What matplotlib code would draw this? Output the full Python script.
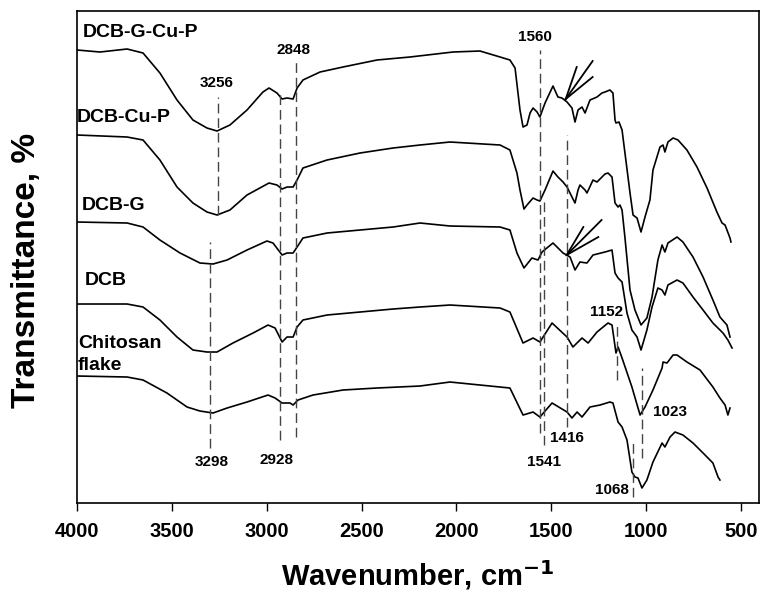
import matplotlib
matplotlib.use("Agg")
import matplotlib.pyplot as plt

plt.rcParams['font.family'] = ['Liberation Sans', 'DejaVu Sans']
plt.rcParams['font.weight'] = 'bold'

# spectra: wavenumber (cm-1) and transmittance (offset, arb. units)
wn_gcup = [4000, 3879, 3736, 3652, 3563, 3473, 3389, 3315, 3262, 3194, 3104, 3020, 2988, 2946,
           2919, 2893, 2861, 2840, 2809, 2719, 2598, 2419, 2245, 2018, 1876, 1770, 1718, 1691,
           1665, 1649, 1628, 1612, 1596, 1575, 1560, 1533, 1491, 1465, 1444, 1417, 1391, 1375,
           1359, 1338, 1322, 1296, 1259, 1233, 1217, 1191, 1175, 1164, 1159, 1143, 1127, 1085,
           1069, 1048, 1027, 1006, 980, 964, 927, 911, 901, 885, 858, 832, 785, 732, 679, 627,
           600, 584, 558, 553]
t_gcup = [453, 451, 454, 450, 430, 403, 383, 375, 372, 378, 393, 411, 415, 410,
          404, 405, 404, 415, 423, 431, 436, 443, 446, 451, 452, 446, 443, 435,
          393, 376, 378, 390, 395, 391, 386, 400, 417, 406, 405, 401, 395, 381,
          393, 396, 390, 403, 406, 410, 411, 413, 410, 383, 380, 381, 373, 310,
          288, 285, 271, 286, 303, 333, 356, 358, 351, 361, 365, 363, 353, 336, 315, 291,
          280, 278, 265, 261]

wn_cup = [4000, 3736, 3652, 3563, 3473, 3389, 3315, 3262, 3194, 3104, 2988, 2946, 2919, 2893,
          2861, 2840, 2809, 2682, 2508, 2334, 2192, 2034, 1770, 1718, 1681, 1665, 1644, 1628,
          1596, 1575, 1560, 1533, 1491, 1465, 1438, 1417, 1391, 1375, 1359, 1349, 1322, 1312,
          1280, 1259, 1217, 1201, 1180, 1164, 1148, 1138, 1127, 1112, 1085, 1059, 1027, 996,
          969, 938, 916, 901, 885, 837, 806, 753, 700, 648, 611, 574, 558]
t_cup = [368, 366, 363, 343, 316, 300, 291, 288, 293, 308, 320, 318, 314, 316,
         316, 323, 335, 343, 350, 355, 358, 361, 358, 353, 330, 313, 294, 298,
         305, 303, 302, 313, 332, 326, 321, 316, 306, 300, 313, 318, 313, 310,
         323, 321, 329, 330, 326, 300, 296, 298, 293, 266, 213, 193, 178, 185,
         206, 243, 258, 251, 260, 266, 261, 246, 226, 203, 186, 178, 166]

wn_g = [4000, 3736, 3652, 3563, 3457, 3352, 3283, 3209, 3104, 2999, 2967, 2919, 2893, 2861,
        2840, 2809, 2682, 2508, 2334, 2192, 2034, 1770, 1718, 1681, 1644, 1602, 1570, 1549,
        1491, 1438, 1401, 1375, 1349, 1312, 1280, 1217, 1180, 1164, 1148, 1127, 1101, 1075,
        1048, 1027, 996, 969, 938, 916, 901, 885, 837, 806, 753, 700, 648, 595, 569, 547]
t_g = [281, 280, 276, 263, 250, 240, 239, 243, 253, 262, 260, 248, 250, 250,
       256, 265, 270, 273, 276, 280, 277, 276, 273, 250, 235, 245, 243, 251,
       260, 250, 246, 233, 241, 240, 248, 251, 253, 230, 225, 221, 190, 173,
       166, 153, 173, 196, 215, 213, 208, 218, 223, 220, 206, 193, 180, 170, 163, 155]

wn_dcb = [4000, 3736, 3652, 3563, 3473, 3389, 3315, 3262, 3178, 3072, 2993, 2956, 2919, 2893,
          2861, 2840, 2809, 2682, 2508, 2334, 2192, 2034, 1770, 1718, 1649, 1596, 1560, 1496,
          1417, 1386, 1338, 1306, 1259, 1201, 1180, 1159, 1148, 1127, 1075, 1032, 1006, 964,
          916, 911, 890, 858, 837, 785, 716, 648, 611, 584, 569, 558]
t_dcb = [199, 199, 196, 183, 166, 153, 151, 151, 160, 170, 178, 175, 161, 166,
         166, 176, 183, 188, 191, 194, 196, 198, 195, 191, 160, 165, 161, 180,
         166, 156, 165, 160, 171, 180, 178, 150, 156, 145, 116, 88, 96, 113,
         135, 141, 140, 148, 148, 141, 133, 116, 105, 98, 88, 95]

wn_chit = [4000, 3736, 3652, 3526, 3420, 3352, 3283, 3209, 3104, 2993, 2956, 2919, 2877, 2861,
           2835, 2756, 2598, 2419, 2192, 2034, 1718, 1649, 1596, 1560, 1496, 1417, 1391, 1364,
           1338, 1296, 1243, 1191, 1175, 1148, 1127, 1101, 1075, 1059, 1043, 1022, 996, 964,
           916, 901, 874, 848, 806, 753, 700, 648, 621, 611]
t_chit = [127, 126, 123, 110, 96, 92, 90, 95, 101, 108, 105, 100, 100, 98,
          103, 108, 113, 115, 117, 121, 115, 88, 91, 86, 100, 91, 85, 91,
          86, 96, 98, 101, 100, 81, 76, 63, 31, 26, 25, 15, 23, 41,
          60, 56, 66, 71, 68, 60, 50, 40, 26, 23]

series_x = [wn_gcup, wn_cup, wn_g, wn_dcb, wn_chit]
series_y = [t_gcup, t_cup, t_g, t_dcb, t_chit]

# sample names (left side) and band markers
names = ['DCB-G-Cu-P', 'DCB-Cu-P', 'DCB-G', 'DCB', 'Chitosan', 'flake']
name_x = [3968, 4000, 3974, 3958, 3995, 3995]
name_y = [471, 386, 298, 223, 160, 138]

band_pos = [3256, 3298, 2928, 2848, 1560, 1541, 1416, 1152, 1023, 1068]
band_top = [406, 261, 411, 443, 453, 303, 368, 178, 135, 60]
band_bot = [288, 55, 63, 66, 70, 58, 76, 123, 45, 6]
band_lbl_x = [3262, 3288, 2946, 2861, 1586, 1539, 1417, 1206, 874, 1180]
band_lbl_y = [420, 41, 43, 453, 466, 41, 65, 191, 91, 13]

fig = plt.figure(figsize=(7.68, 5.95), dpi=100)
ax = fig.add_axes([0.1003, 0.1546, 0.8880, 0.8269])

for xs, ys in zip(series_x, series_y):
    ax.plot(xs, ys, color='black', lw=1.2)

for xp, top, bot in zip(band_pos, band_top, band_bot):
    ax.plot([xp, xp], [bot, top], color='#444444', lw=1.0, dashes=(7, 3.5))

for lbl, lx, ly in zip(band_pos, band_lbl_x, band_lbl_y):
    ax.text(lx, ly, str(lbl), fontsize=11, fontweight='bold', ha='center', va='center')

for nm, nx, ny in zip(names, name_x, name_y):
    ax.text(nx, ny, nm, fontsize=14, fontweight='bold', ha='left', va='center')

# double arrows pointing at shoulders
arrows = [((1424, 404), [(1366, 436), (1282, 442), (1282, 426)]),
          ((1419, 248), [(1331, 276), (1235, 283), (1252, 266)])]
for tip, tails in arrows:
    for tail in tails:
        ax.plot([tip[0], tail[0]], [tip[1], tail[1]], color='black', lw=1.3)

ax.set_xlim(4000, 405)
ax.set_ylim(0, 492)
ax.set_xticks([4000, 3500, 3000, 2500, 2000, 1500, 1000, 500])
ax.set_yticks([])
ax.tick_params(axis='x', direction='out', length=6, width=1, labelsize=14.5, pad=8)
for lab in ax.get_xticklabels():
    lab.set_fontweight('bold')
for sp in ax.spines.values():
    sp.set_linewidth(1.2)

fig.text(0.544, 0.034, 'Wavenumber, cm$^{\\mathbf{-1}}$', fontsize=21, fontweight='bold',
         ha='center', va='center')
fig.text(0.035, 0.546, 'Transmittance, %', fontsize=24, fontweight='bold',
         ha='center', va='center', rotation=90)

fig.savefig('out.png', dpi=100)
